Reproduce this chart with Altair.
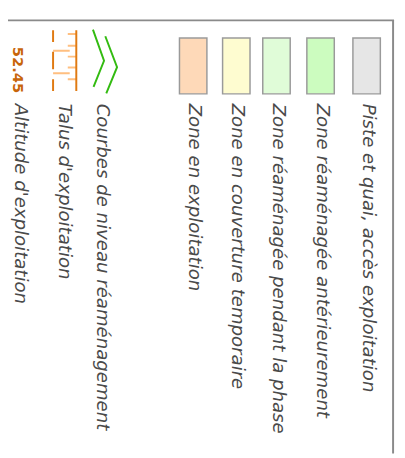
import altair as alt
import pandas as pd

# ---- legend content ----
swatch_labels = [
    "Piste et quai, accès exploitation",
    "Zone réaménagée antérieurement",
    "Zone réaménagée pendant la phase",
    "Zone en couverture temporaire",
    "Zone en exploitation",
]
swatch_colors = ["#e6e6e6", "#ccfcbf", "#e0fcd8", "#fefcd0", "#fed9b8"]
symbol_labels = [
    "Courbes de niveau réaménagement",
    "Talus  d'exploitation",
    "Altitude d'exploitation",
]
altitude_value = "52.45"

# ---- layout (legend slot centres, page pixels) ----
swatch_slot = [374, 327, 282, 241, 197]
symbol_slot = [103, 64, 19]
label_shift = 2
symbol_top = 58
label_top = 101

W, H = 405, 458
M = 8
xs = alt.Scale(domain=[M, W], range=[0, W - M])
ys = alt.Scale(domain=[M, H], range=[0, H - M])

def X(f="x"):
    return alt.X(f"{f}:Q", scale=xs, axis=None)

def Y(f="y"):
    return alt.Y(f"{f}:Q", scale=ys, axis=None)

# swatches
sw = pd.DataFrame({"x": swatch_slot, "y": [62.5] * 5, "c": swatch_colors})
rect_path = "M -14 -28.5 L 14 -28.5 L 14 28.5 L -14 28.5 Z"
swatches = alt.Chart(sw).mark_point(
    shape=rect_path, size=4, filled=True, opacity=1, stroke="#9a9a9a", strokeWidth=1.5
).encode(x=X(), y=Y(), fill=alt.Fill("c:N", scale=None))

# labels
lab = pd.DataFrame({
    "x": [v + label_shift for v in swatch_slot + symbol_slot],
    "y": [label_top] * 8,
    "t": swatch_labels + symbol_labels,
})
labels = alt.Chart(lab).mark_text(
    angle=90, align="left", baseline="middle",
    font="DejaVu Sans",
    fontSize=18.5, fontStyle="italic", color="#4a4a4a"
).encode(x=X(), y=Y(), text="t:N")

# symbols
sym = pd.DataFrame({"x": [107], "y": [symbol_top]})
chevrons = alt.Chart(sym).mark_point(
    shape="M -12.3 -32.5 L -1 -0.8 L -11.7 25.8 M 0.3 -25.8 L 12.3 5.8 L 1.3 32.5",
    size=4, filled=False, opacity=1, stroke="#33bb11", strokeWidth=2
).encode(x=X(), y=Y())

tal = pd.DataFrame({"x": [66], "y": [symbol_top]})
talus_light = alt.Chart(tal).mark_point(
    shape=("M 3 -28 L 11.5 -28 M 3 -16 L 11.5 -16 M 3 -5 L 11.5 -5 "
           "M 3 6 L 11.5 6 M 3 18 L 11.5 18 "
           "M -12 -11 L 5 -11 M -12 12 L 5 12"),
    size=4, filled=False, opacity=1, stroke="#ffbf80", strokeWidth=2
).encode(x=X(), y=Y())
talus_dark = alt.Chart(tal).mark_point(
    shape=("M 11.7 -32 L 11.7 30 "
           "M -12 -32 L -12 -20 M -12 -10 L -12 8 M -12 18 L -12 30"),
    size=4, filled=False, opacity=1, stroke="#e07a12", strokeWidth=2
).encode(x=X(), y=Y())

alt_df = pd.DataFrame({"x": [symbol_slot[2] - 1], "y": [43], "t": [altitude_value]})
alt_text = alt.Chart(alt_df).mark_text(
    angle=90, align="left", baseline="middle", font="DejaVu Sans",
    fontSize=15, fontWeight="bold", color="#c8650a"
).encode(x=X(), y=Y(), text="t:N")

# frame
top_edge = pd.DataFrame({"x": [0], "x2": [402], "y": [16]})
right_edge = pd.DataFrame({"x": [401], "y": [16], "y2": [H]})
frame_top = alt.Chart(top_edge).mark_rule(color="#8a8a8a", strokeWidth=2).encode(
    x=X(), x2="x2:Q", y=Y())
frame_right = alt.Chart(right_edge).mark_rule(color="#8a8a8a", strokeWidth=2).encode(
    x=X(), y=Y(), y2="y2:Q")

chart = alt.layer(
    frame_top, frame_right, swatches, labels, chevrons, talus_light, talus_dark, alt_text
).properties(
    width=W - M, height=H - M, padding=0, autosize=alt.AutoSizeParams(type="none")
).configure_view(stroke=None)

chart.save("out.html", embed_options={"renderer": "svg", "actions": False})
